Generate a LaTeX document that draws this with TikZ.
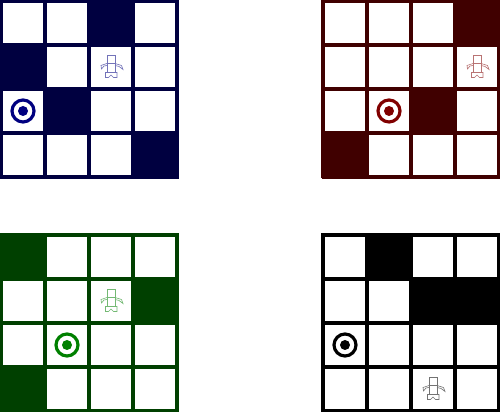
\documentclass[tikz,border=0pt]{standalone}
\usepackage{tikz}
\usetikzlibrary{calc}
\definecolor{navydark}{HTML}{000040}
\definecolor{navylight}{HTML}{000080}
\definecolor{maroondark}{HTML}{400000}
\definecolor{maroonlight}{HTML}{800000}
\definecolor{greendark}{HTML}{004000}
\definecolor{greenlight}{HTML}{008000}
\tikzset{
    gridline/.style={line width=1.9pt},
    figline/.style={line width=0.35pt},
    walker/.pic={
        \draw[figline] (-0.08,0.07) rectangle (0.08,0.24);
        \draw[figline] (-0.08,-0.11) rectangle (0.08,0.07);
        \draw[figline] (-0.08,0.07) -- (-0.2,0.03) -- (-0.19,-0.04) -- (-0.14,0.02) -- (-0.08,0.03);
        \draw[figline] (0.08,0.07) -- (0.21,0.03) -- (0.24,-0.05) -- (0.16,0.01) -- (0.08,0.03);
        \draw[figline] (-0.11,-0.11) -- (0.12,-0.11) -- (0.12,-0.21) -- (0.05,-0.21) -- (0,-0.16) -- (-0.05,-0.21) -- (-0.11,-0.21) -- cycle;
    }
}
% x, y, dark, light, walls, goal, person
\newcommand{\gridpanel}[7]{
    \begin{scope}[shift={(#1,#2)}]
        % Walls
        \foreach \c/\r in {#5}
            \fill[#3] (\c*0.88,\r*0.88) rectangle ++(0.88,0.88);
        % Grid
        \foreach \i in {0,...,4} {
            \draw[gridline, #3] (\i*0.88,-0.03) -- (\i*0.88,3.55);
            \draw[gridline, #3] (-0.03,\i*0.88) -- (3.55,\i*0.88);
        }
        % Goal
        \draw[#4, line width=1.8pt] ($0.88*(#6)+(0.44,0.44)$) circle (0.22);
        \fill[#4] ($0.88*(#6)+(0.44,0.44)$) circle (0.1);
        % Person
        \pic[color=#4!55!white] at ($0.88*(#7)+(0.44,0.44)$) {walker};
    \end{scope}
}
\begin{document}
\begin{tikzpicture}
    \useasboundingbox (0,0) rectangle (10,8.24);
    \fill[white] (0,0) rectangle (10,8.24);
    \gridpanel{0.02}{4.70}{navydark}{navylight}{2/3,0/2,1/1,3/0}{0,1}{2,2}
    \gridpanel{6.46}{4.70}{maroondark}{maroonlight}{3/3,2/1,0/0}{1,1}{3,2}
    \gridpanel{0.02}{0.02}{greendark}{greenlight}{0/3,3/2,0/0}{1,1}{2,2}
    \gridpanel{6.46}{0.02}{black}{black}{1/3,2/2,3/2}{0,1}{2,0}
\end{tikzpicture}
\end{document}
